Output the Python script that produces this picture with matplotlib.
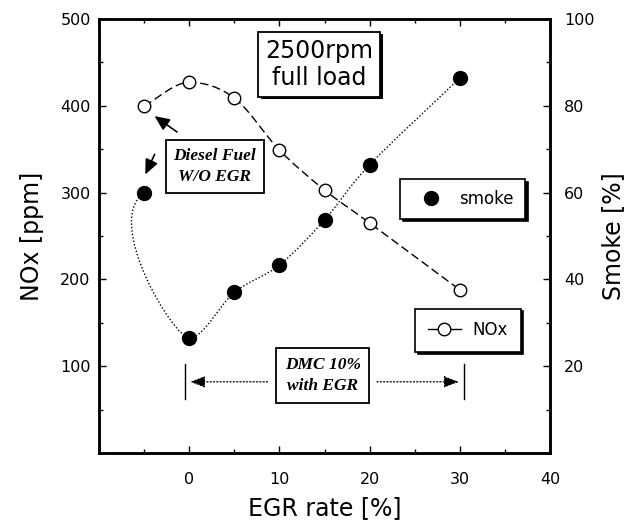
import numpy as np
import matplotlib
matplotlib.use("Agg")
import matplotlib.pyplot as plt
from matplotlib.path import Path
from matplotlib.patches import PathPatch
from matplotlib.lines import Line2D
import matplotlib.patheffects as pe

# ---------------- data ----------------
egr_rate = [-5, 0, 5, 10, 15, 20, 30]
nox_ppm = [400, 427, 409, 349, 303, 265, 188]
smoke_pct = [60, 26.5, 37, 43.3, 53.7, 66.4, 86.4]

x_ticks = [0, 10, 20, 30, 40]
nox_ticks = [100, 200, 300, 400, 500]
smoke_ticks = [20, 40, 60, 80, 100]

# annotation anchors
dmc_range = [-0.5, 30.5]   # EGR span of the DMC 10% arrow
dmc_level = 82             # NOx level of that arrow

# ---------------- helpers ----------------
def smooth_curve(ax, xs, ys, start_dir=None, **kw):
    """Catmull-Rom style curve through the points, drawn as a Bezier path.
    Local extrema get a flat tangent so the curve does not overshoot."""
    tr = ax.transData
    P = tr.transform(np.column_stack([xs, ys]))
    n = len(P)
    T = np.zeros_like(P)
    for i in range(1, n - 1):
        T[i] = (P[i + 1] - P[i - 1]) / 2.0
        if (P[i, 1] - P[i - 1, 1]) * (P[i + 1, 1] - P[i, 1]) < 0:
            T[i, 1] = 0.0
    T[0] = P[1] - P[0]
    T[-1] = P[-1] - P[-2]
    if start_dir is not None:
        d = np.asarray(start_dir, float)
        T[0] = d / np.linalg.norm(d) * np.linalg.norm(P[1] - P[0])
    verts = [P[0]]
    codes = [Path.MOVETO]
    for i in range(n - 1):
        verts += [P[i] + T[i] / 3.0, P[i + 1] - T[i + 1] / 3.0, P[i + 1]]
        codes += [Path.CURVE4] * 3
    verts = tr.inverted().transform(np.array(verts))
    patch = PathPatch(Path(verts, codes), fill=False, transform=ax.transData, **kw)
    ax.add_patch(patch)
    return patch

# ---------------- figure ----------------
fig = plt.figure(figsize=(6.35, 5.26), dpi=100)
ax = fig.add_axes([99 / 635, 73 / 526, 451 / 635, 434 / 526])
ax2 = ax.twinx()

ax.set_xlim(-10, 40)
ax.set_ylim(0, 500)
ax2.set_ylim(0, 100)

for a in (ax, ax2):
    for s in a.spines.values():
        s.set_linewidth(1.8)

ax.set_xticks([-10] + x_ticks)
ax.set_xticklabels([""] + [str(v) for v in x_ticks])
ax.set_xticks(np.arange(-5, 40, 10), minor=True)
ax.set_yticks([0] + nox_ticks)
ax.set_yticklabels([""] + [str(v) for v in nox_ticks])
ax.set_yticks(np.arange(50, 500, 100), minor=True)
ax2.set_yticks([0] + smoke_ticks)
ax2.set_yticklabels([""] + [str(v) for v in smoke_ticks])
ax2.set_yticks(np.arange(10, 100, 20), minor=True)

ax.tick_params(which="both", direction="in", top=True, right=False, labelsize=11.5)
ax.tick_params(axis="x", which="major", pad=14)
ax.tick_params(axis="y", which="major", pad=6)
ax.tick_params(which="major", length=5, width=1)
ax.tick_params(which="minor", length=3, width=1)
ax2.tick_params(which="both", direction="in", labelsize=11.5)
ax2.tick_params(which="major", length=5, width=1, pad=10)
ax2.tick_params(which="minor", length=3, width=1)

ax.set_xlabel("EGR rate [%]", fontsize=17, labelpad=6)
ax.set_ylabel("NOx [ppm]", fontsize=17, labelpad=12)
ax2.set_ylabel("Smoke [%]", fontsize=17, labelpad=5)

# ---------------- curves & markers ----------------
smooth_curve(ax, egr_rate, nox_ppm, lw=1.0, ec="black", ls=(0, (6, 3)), zorder=2)
ax.plot(egr_rate, nox_ppm, ls="none", marker="o", ms=9, mfc="white",
        mec="black", mew=1.0, zorder=3)

smooth_curve(ax2, egr_rate, smoke_pct, start_dir=(-0.71, -0.51),
             lw=1.0, ec="black", ls=(0, (1, 1.5)), zorder=2)
ax2.plot(egr_rate, smoke_pct, ls="none", marker="o", ms=10, mfc="black",
         mec="black", zorder=3)

# ---------------- annotations ----------------
serif_bi = dict(family="Liberation Serif", style="italic", weight="bold")

t1 = ax.text(14.4, 448, "2500rpm\nfull load", fontsize=17, ha="center", va="center",
             linespacing=1.15,
             bbox=dict(boxstyle="square,pad=0.3", fc="white", ec="black", lw=1.3),
             zorder=6)
t1.get_bbox_patch().set_path_effects([
    pe.SimplePatchShadow(offset=(2, -2), shadow_rgbFace="black", alpha=1.0),
    pe.Normal()])

t2 = ax.text(2.85, 330, "Diesel Fuel\nW/O EGR", fontsize=12.5, ha="center", va="center",
             linespacing=1.45,
             bbox=dict(boxstyle="square,pad=0.45", fc="white", ec="black", lw=1.3),
             zorder=6, **serif_bi)

t3 = ax.text(14.8, 89, "DMC 10%\nwith EGR", fontsize=12.5, ha="center", va="center",
             linespacing=1.45,
             bbox=dict(boxstyle="square,pad=0.5", fc="white", ec="black", lw=1.3),
             zorder=6, **serif_bi)

arrow_kw = dict(arrowstyle="-|>,head_length=0.9,head_width=0.4", color="black", lw=1.2)
ax.annotate("", xy=(-4.1, 390), xytext=(-1.1, 368), arrowprops=arrow_kw, zorder=5)
ax.annotate("", xy=(-5.0, 318), xytext=(-3.7, 347), arrowprops=arrow_kw, zorder=5)

# DMC span arrow
dot_kw = dict(arrowstyle="-|>,head_length=0.9,head_width=0.35", color="black",
              lw=0.9, linestyle=":")
ax.annotate("", xy=(dmc_range[0] + 0.3, dmc_level), xytext=(9.0, dmc_level),
            arrowprops=dot_kw, zorder=4)
ax.annotate("", xy=(dmc_range[1] - 0.3, dmc_level), xytext=(20.5, dmc_level),
            arrowprops=dot_kw, zorder=4)
for xv in dmc_range:
    ax.plot([xv, xv], [dmc_level - 20, dmc_level + 20], color="black", lw=1.0, zorder=4)

# ---------------- legends ----------------
shadow = {"color": "black", "alpha": 1.0}
h_smoke = Line2D([], [], ls="none", marker="o", ms=10, color="black")
leg1 = ax2.legend([h_smoke], ["smoke"], loc="center", bbox_to_anchor=(0.806, 0.586),
                  frameon=True, fancybox=False, shadow=shadow, edgecolor="black",
                  framealpha=1, fontsize=12, borderpad=0.65, handlelength=2.4,
                  handletextpad=0.5, numpoints=1)
leg1.get_frame().set_linewidth(1.2)
ax2.add_artist(leg1)

h_nox = Line2D([], [], ls="-", lw=1.0, marker="o", ms=9, mfc="white", mec="black",
               color="black")
leg2 = ax2.legend([h_nox], ["NOx"], loc="center", bbox_to_anchor=(0.818, 0.283),
                  frameon=True, fancybox=False, shadow=shadow, edgecolor="black",
                  framealpha=1, fontsize=12, borderpad=0.75, handlelength=2.0,
                  handletextpad=0.7, numpoints=1)
leg2.get_frame().set_linewidth(1.2)

fig.savefig("out.png", dpi=100)
